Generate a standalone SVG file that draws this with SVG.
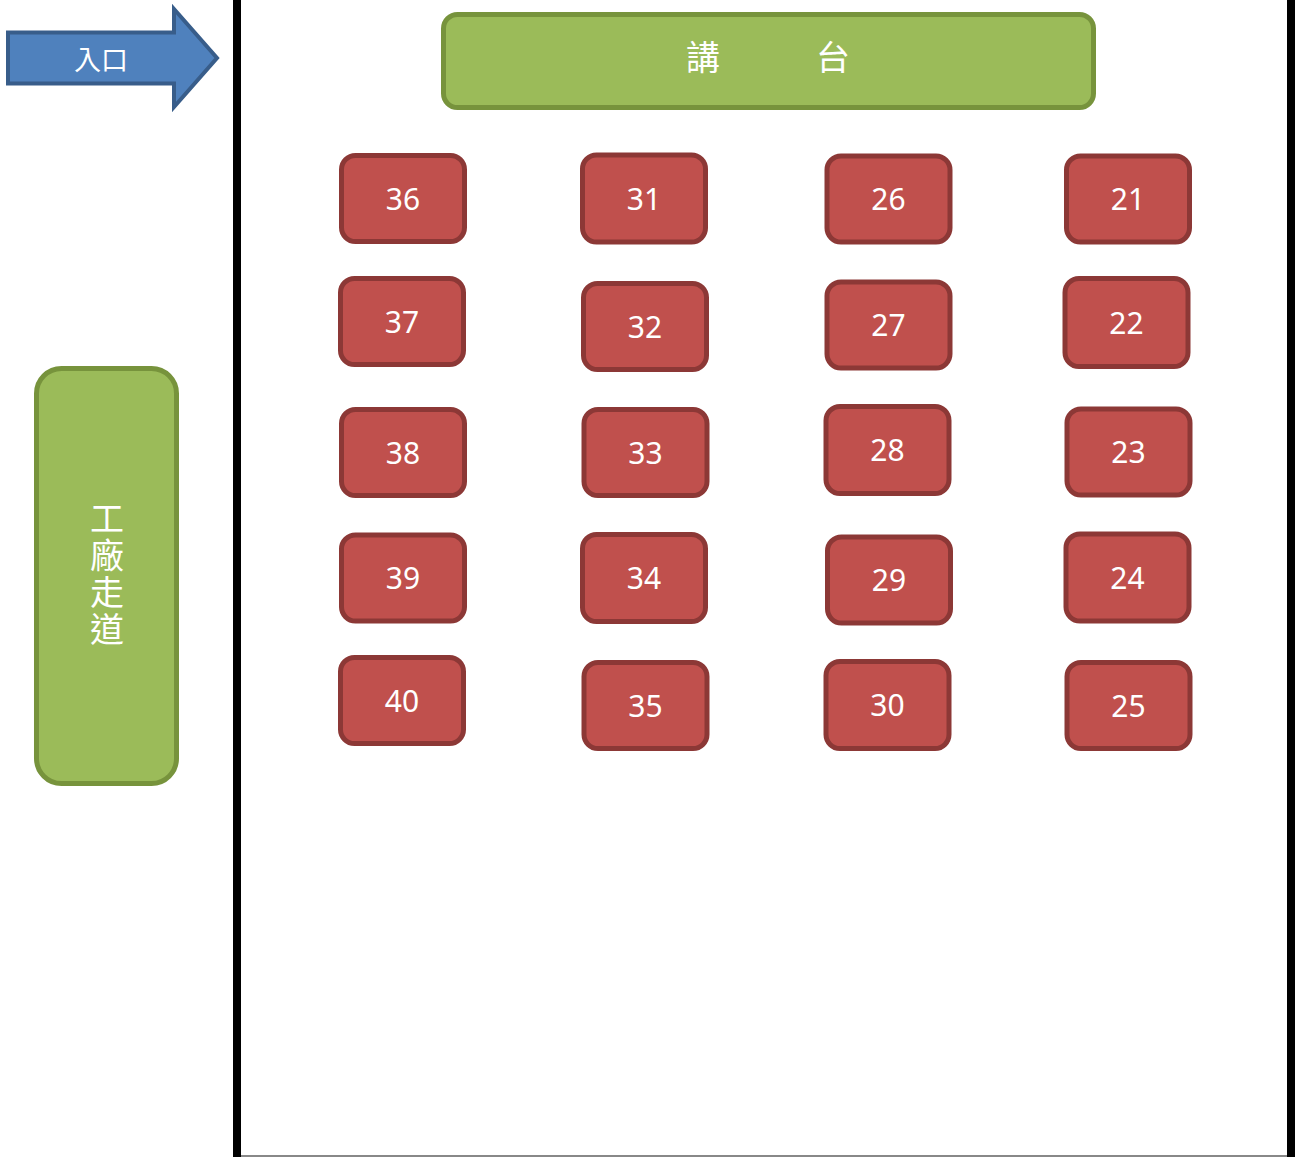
<svg xmlns="http://www.w3.org/2000/svg" width="1298" height="1157" viewBox="0 0 1298 1157">
<style>
.seat rect{fill:#c0504d;stroke:#8c3836;stroke-width:5}
.seat text{fill:#ffffff;font-family:"Noto Sans","Liberation Sans",sans-serif;font-size:30px;text-anchor:middle}
.green{fill:#9bbb59;stroke:#77933c;stroke-width:5}
.cjk{fill:#ffffff;font-family:"Noto Sans CJK TC","Noto Sans CJK SC",sans-serif;text-anchor:middle}
</style>
<rect width="1298" height="1157" fill="#ffffff"/>
<g id="walls">
<rect x="233" y="0" width="8" height="1157" fill="#000000"/>
<rect x="1287" y="0" width="8" height="1157" fill="#000000"/>
<line x1="241" y1="1156" x2="1287" y2="1156" stroke="#888888" stroke-width="2"/>
</g>
<g id="entrance">
<polygon points="8,32.5 174,32.5 174,9 217,58 174,107 174,83.5 8,83.5" fill="#4f81bd" stroke="#385d8a" stroke-width="4" stroke-linejoin="miter"/>
<text class="cjk" x="101" y="70" font-size="27" fill="#f2f2f2">入口</text>
</g>
<g id="podium">
<rect class="green" x="443.5" y="14.5" width="650" height="93" rx="14"/>
<text class="cjk" font-size="34" y="70"><tspan x="703">講</tspan><tspan x="833">台</tspan></text>
</g>
<g id="walkway">
<rect class="green" x="36.5" y="368.5" width="140" height="415" rx="25"/>
<text class="cjk" font-size="34" writing-mode="vertical-rl" letter-spacing="3" style="text-anchor:start" x="107" y="501">工廠走道</text>
</g>
<g id="connectors"></g>
<g id="seat-36" class="seat"><rect x="341.5" y="155.5" width="123" height="86" rx="14"/><text x="403" y="209.5">36</text></g>
<g id="seat-37" class="seat"><rect x="340.5" y="278.5" width="123" height="86" rx="14"/><text x="402" y="332.5">37</text></g>
<g id="seat-38" class="seat"><rect x="341.5" y="409.5" width="123" height="86" rx="14"/><text x="403" y="463.5">38</text></g>
<g id="seat-39" class="seat"><rect x="341.5" y="535" width="123" height="86" rx="14"/><text x="403" y="589">39</text></g>
<g id="seat-40" class="seat"><rect x="340.5" y="657.5" width="123" height="86" rx="14"/><text x="402" y="711.5">40</text></g>
<g id="seat-31" class="seat"><rect x="582.5" y="155" width="123" height="87" rx="14"/><text x="644" y="209.5">31</text></g>
<g id="seat-32" class="seat"><rect x="583.5" y="283.5" width="123" height="86" rx="14"/><text x="645" y="337.5">32</text></g>
<g id="seat-33" class="seat"><rect x="584" y="409.5" width="123" height="86" rx="14"/><text x="645.5" y="463.5">33</text></g>
<g id="seat-34" class="seat"><rect x="582.5" y="534.5" width="123" height="87" rx="14"/><text x="644" y="589">34</text></g>
<g id="seat-35" class="seat"><rect x="584" y="662.5" width="123" height="86" rx="14"/><text x="645.5" y="716.5">35</text></g>
<g id="seat-26" class="seat"><rect x="827" y="156" width="123" height="86" rx="14"/><text x="888.5" y="210">26</text></g>
<g id="seat-27" class="seat"><rect x="827" y="282" width="123" height="86" rx="14"/><text x="888.5" y="336">27</text></g>
<g id="seat-28" class="seat"><rect x="826" y="406.5" width="123" height="87" rx="14"/><text x="887.5" y="461">28</text></g>
<g id="seat-29" class="seat"><rect x="827.5" y="537" width="123" height="86" rx="14"/><text x="889" y="591">29</text></g>
<g id="seat-30" class="seat"><rect x="826" y="661.5" width="123" height="87" rx="14"/><text x="887.5" y="716">30</text></g>
<g id="seat-21" class="seat"><rect x="1066.5" y="156" width="123" height="86" rx="14"/><text x="1128" y="210">21</text></g>
<g id="seat-22" class="seat"><rect x="1065" y="278.5" width="123" height="88" rx="14"/><text x="1126.5" y="333.5">22</text></g>
<g id="seat-23" class="seat"><rect x="1067" y="409" width="123" height="86" rx="14"/><text x="1128.5" y="463">23</text></g>
<g id="seat-24" class="seat"><rect x="1066" y="534" width="123" height="87" rx="14"/><text x="1127.5" y="588.5">24</text></g>
<g id="seat-25" class="seat"><rect x="1067" y="662.5" width="123" height="86" rx="14"/><text x="1128.5" y="716.5">25</text></g>
</svg>
